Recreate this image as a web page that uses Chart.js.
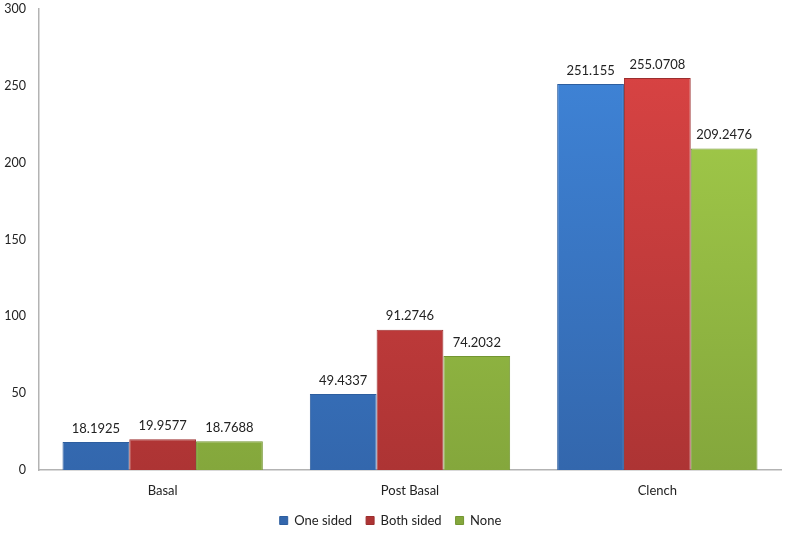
<!DOCTYPE html>
<html>
<head>
<meta charset="utf-8">
<script src="https://cdn.jsdelivr.net/npm/chart.js@4.4.1/dist/chart.umd.min.js"></script>
<style>
  html, body { margin: 0; padding: 0; background: #fff; }
  #chart-wrap { width: 786px; height: 534px; }
</style>
</head>
<body>
<div id="chart-wrap"><canvas id="graph-canvas" width="786" height="534"></canvas></div>
<script>
// values
const categories = ['Basal', 'Post Basal', 'Clench'];
const oneSided = [18.1925, 49.4337, 251.155];
const bothSided = [19.9577, 91.2746, 255.0708];
const noneSided = [18.7688, 74.2032, 209.2476];
const yTicks = [0, 50, 100, 150, 200, 250, 300];

const FONT = 'Lato, "Liberation Sans", sans-serif';

// vertical gradient across the plot area, light at the top and darker at the base
function barFill(top, bottom) {
  return function (ctx) {
    const area = ctx.chart.chartArea;
    if (!area) return top;
    const g = ctx.chart.ctx.createLinearGradient(0, area.top, 0, area.bottom);
    g.addColorStop(0, top);
    g.addColorStop(1, bottom);
    return g;
  };
}

// little plugin that writes the value over each bar
const valueLabels = {
  id: 'valueLabels',
  afterDatasetsDraw(chart) {
    const c = chart.ctx;
    c.save();
    c.font = '13px ' + FONT;
    c.fillStyle = '#222';
    c.textAlign = 'center';
    c.textBaseline = 'bottom';
    chart.data.datasets.forEach((ds, i) => {
      chart.getDatasetMeta(i).data.forEach((bar, j) => {
        c.fillText(String(ds.data[j]), bar.x, bar.y - 7);
      });
    });
    c.restore();
  }
};

const config = {
  type: 'bar',
  data: {
    labels: categories,
    datasets: [
      {
        label: 'One sided',
        data: oneSided,
        backgroundColor: barFill('#4087dc', '#3367ad'),
        borderColor: '#2d5e9f',
        borderWidth: 1
      },
      {
        label: 'Both sided',
        data: bothSided,
        backgroundColor: barFill('#de4545', '#ad3434'),
        borderColor: '#9c2e2e',
        borderWidth: 1
      },
      {
        label: 'None',
        data: noneSided,
        backgroundColor: barFill('#a8d24c', '#84a73c'),
        borderColor: '#739631',
        borderWidth: 1
      }
    ]
  },
  options: {
    responsive: false,
    animation: false,
    layout: { padding: { top: 9, right: 5, left: 0, bottom: -3 } },
    datasets: {
      bar: { categoryPercentage: 0.81, barPercentage: 1 }
    },
    scales: {
      x: {
        afterFit(scale) { scale.height = 30; },
        grid: { display: false, drawTicks: false },
        border: { display: true, color: '#b3b3b3', width: 1.5 },
        ticks: { color: '#222', font: { family: FONT, size: 13 }, padding: 13 }
      },
      y: {
        min: 0,
        max: 300,
        afterBuildTicks(scale) {
          scale.ticks = yTicks.map(v => ({ value: v }));
        },
        afterFit(scale) {
          scale.width = 39;
          scale.paddingTop = 0;
        },
        grid: { display: false, drawTicks: false },
        border: { display: true, color: '#b3b3b3', width: 1.5 },
        ticks: { color: '#222', font: { family: FONT, size: 12.5 }, padding: 13 }
      }
    },
    plugins: {
      legend: {
        position: 'bottom',
        labels: {
          boxWidth: 8,
          boxHeight: 8,
          padding: 14,
          color: '#222',
          font: { family: FONT, size: 13 }
        }
      },
      tooltip: { enabled: false }
    }
  },
  plugins: [valueLabels]
};

new Chart(document.getElementById('graph-canvas'), config);
</script>
</body>
</html>
